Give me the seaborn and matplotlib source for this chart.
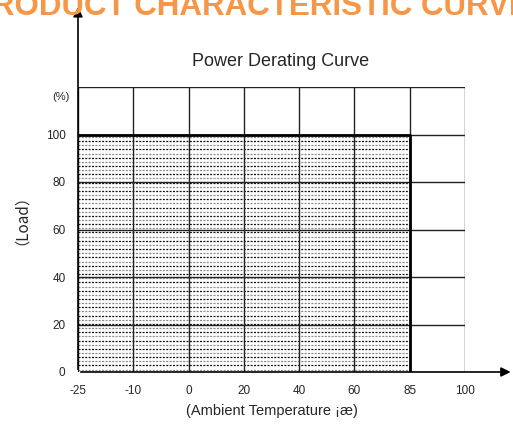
import numpy as np
import pandas as pd
import matplotlib
matplotlib.use("Agg")
import matplotlib.pyplot as plt
import seaborn as sns

# Ambient temperature tick labels (equally spaced on the chart)
temp_labels = ["-25", "-10", "0", "20", "40", "60", "85", "100"]
load_ticks = [0, 20, 40, 60, 80, 100]

# Derating curve: full load up to 85 C, then cut
curve_temp = ["-25", "85", "85"]
curve_load = [100, 100, 0]

sns.set_theme(style="white")
plt.rcParams["font.family"] = ["Liberation Sans", "Noto Sans CJK SC", "DejaVu Sans"]

fig = plt.figure(figsize=(5.13, 4.30), dpi=100)
ax = fig.add_axes([78 / 513, 1 - 372 / 430, 387 / 513, 285 / 430])

pos = {t: i for i, t in enumerate(temp_labels)}
df = pd.DataFrame({"x": [pos[t] for t in curve_temp], "load": curve_load})

# shaded working area: rows of small dashes, alternating dark / grey
x0, x1 = df["x"].iloc[0], df["x"].iloc[1]
rows = np.arange(1.0, df["load"].max(), 1.75)
for k, yv in enumerate(rows):
    ax.hlines(yv, x0, x1, colors="#111111" if k % 2 else "#8a8a8a",
              lw=0.9, linestyles=(0, (1.6, 1.1)), zorder=1)

# grid
for i in range(len(temp_labels)):
    ax.axvline(i, color="#222222", lw=1.0, zorder=2)
for v in [20, 40, 60, 80, 100, 120]:
    ax.axhline(v, color="#222222", lw=1.0, zorder=2)

sns.lineplot(data=df, x="x", y="load", color="black", lw=2.0, sort=False,
             estimator=None, ax=ax, zorder=3)

ax.set_xlim(0, len(temp_labels) - 1)
ax.set_ylim(0, 120)
ax.set_xticks(range(len(temp_labels)))
ax.set_xticklabels(temp_labels, fontsize=8.5)
ax.set_yticks(load_ticks)
ax.set_yticklabels([str(v) for v in load_ticks], fontsize=8.5)
ax.tick_params(length=0, pad=9)
ax.set_xlabel("")
ax.set_ylabel("")
for s in ax.spines.values():
    s.set_visible(False)

# arrows for axes
ax.annotate("", xy=(0, 1.29), xytext=(0, 0), xycoords="axes fraction",
            arrowprops=dict(arrowstyle="-|>", color="black", lw=1.2,
                            mutation_scale=14), annotation_clip=False)
ax.annotate("", xy=(1.125, 0), xytext=(0, 0), xycoords="axes fraction",
            arrowprops=dict(arrowstyle="-|>", color="black", lw=1.2,
                            mutation_scale=14), annotation_clip=False)

ax.text(-0.15, 116, "(%)", fontsize=8, ha="right", va="center")
fig.text(13 / 513, 1 - 212 / 430, "（Load）", rotation=90, fontsize=11,
         ha="center", va="center",
         family=["Noto Sans CJK SC", "DejaVu Sans"])
fig.text(272 / 513, 1 - 411 / 430, "(Ambient Temperature ¡æ)", fontsize=10.5,
         ha="center", va="center")
fig.text(281 / 513, 1 - 62 / 430, "Power Derating Curve", fontsize=13,
         ha="center", va="center")
fig.text(250 / 513, 1 - 15 / 430, "PRODUCT CHARACTERISTIC CURVE",
         fontsize=22.5, fontweight="bold", color="#F79646",
         ha="center", va="baseline")

fig.savefig("out.png", dpi=100)
